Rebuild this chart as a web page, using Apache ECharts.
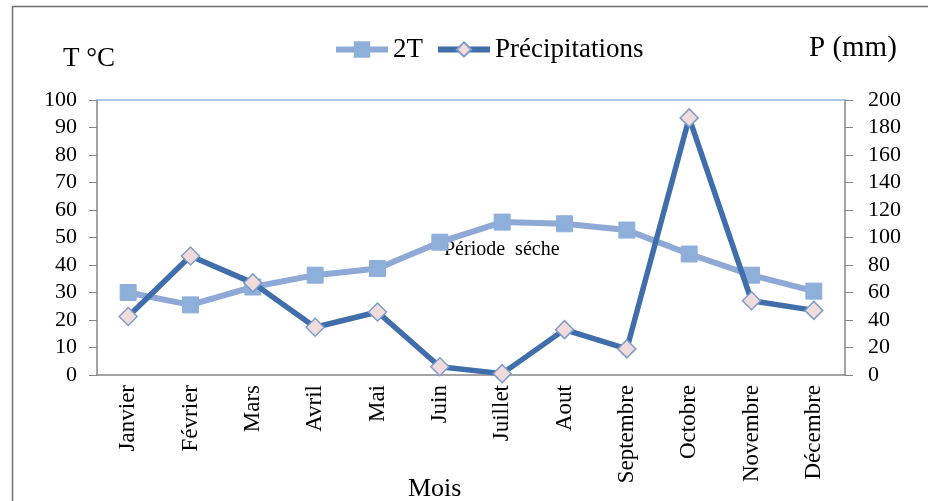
<!DOCTYPE html>
<html>
<head>
<meta charset="utf-8">
<script src="https://cdn.jsdelivr.net/npm/echarts@6/dist/echarts.min.js"></script>
<style>
  html, body { margin: 0; padding: 0; background: #fff; }
  #chart { width: 928px; height: 501px; }
</style>
</head>
<body>
<div id="chart"></div>
<script>
// mois
var mois = ['Janvier', 'Février', 'Mars', 'Avril', 'Mai', 'Juin', 'Juillet', 'Aout', 'Septembre', 'Octobre', 'Novembre', 'Décembre'];
// 2T (axe gauche, °C x 2)
var deuxT = [30, 25.5, 32, 36.3, 38.7, 48.3, 55.6, 55, 52.7, 44, 36.3, 30.5];
// précipitations (axe droit, mm)
var precip = [42.5, 86.5, 67, 34.7, 45.8, 6, 1, 33, 19, 187, 54, 47];

var serif = '"Liberation Serif", "DejaVu Serif", serif';
var chart = echarts.init(document.getElementById('chart'));

var option = {
  backgroundColor: '#ffffff',
  animation: false,
  textStyle: { fontFamily: serif },
  legend: {
    top: 31,
    left: 328,
    itemWidth: 52,
    itemHeight: 18,
    itemGap: 12,
    lineStyle: { width: 6 },
    textStyle: { fontFamily: serif, fontSize: 27, color: '#000' },
    data: ['2T', 'Précipitations']
  },
  grid: { left: 97, right: 83, top: 100, bottom: 126 },
  xAxis: [{
    type: 'category',
    data: mois,
    boundaryGap: true,
    axisLine: { onZero: false, lineStyle: { color: '#868686', width: 1.5 } },
    axisTick: { show: false },
    axisLabel: {
      rotate: 90,
      interval: 0,
      margin: 10,
      fontFamily: serif,
      fontSize: 23,
      color: '#000'
    }
  }, {
    type: 'category',
    data: mois,
    position: 'top',
    axisLine: { onZero: false, lineStyle: { color: '#8EB4E3', width: 1.5 } },
    axisTick: { show: false },
    axisLabel: { show: false }
  }],
  yAxis: [{
    type: 'value',
    min: 0, max: 100, interval: 10,
    axisLine: { show: true, onZero: false, lineStyle: { color: '#868686', width: 1.5 } },
    axisTick: { show: true, length: 8, lineStyle: { color: '#868686' } },
    splitLine: { show: false },
    axisLabel: { fontFamily: serif, fontSize: 22, color: '#000', margin: 20 }
  }, {
    type: 'value',
    min: 0, max: 200, interval: 20,
    axisLine: { show: true, onZero: false, lineStyle: { color: '#868686', width: 1.5 } },
    axisTick: { show: true, length: 8, lineStyle: { color: '#868686' } },
    splitLine: { show: false },
    axisLabel: { fontFamily: serif, fontSize: 22, color: '#000', margin: 23 }
  }],
  series: [{
    name: '2T',
    type: 'line',
    yAxisIndex: 0,
    data: deuxT,
    symbol: 'rect',
    symbolSize: 16,
    lineStyle: { color: '#8EA9D5', width: 6 },
    itemStyle: { color: '#8EAFDA', borderColor: '#8EAFDA', borderWidth: 1 },
    z: 2
  }, {
    name: 'Précipitations',
    type: 'line',
    yAxisIndex: 1,
    data: precip,
    symbol: 'diamond',
    symbolSize: [18, 18],
    lineStyle: { color: '#3F6EAA', width: 5.5 },
    itemStyle: { color: '#F2DCDB', borderColor: '#7E9DCB', borderWidth: 1.5 },
    z: 3
  }],
  graphic: [
    { type: 'rect', left: 10, top: 4, shape: { width: 930, height: 510 },
      style: { fill: 'none', stroke: '#6f6f6f', lineWidth: 1.5 }, silent: true, z: -1 },
    { type: 'text', left: 63, top: 45,
      style: { text: 'T °C', font: '27px ' + serif, fill: '#000' } },
    { type: 'text', left: 809, top: 34,
      style: { text: 'P (mm)', font: '29px ' + serif, fill: '#000' } },
    { type: 'text', left: 444, top: 240,
      style: { text: 'Période  séche', font: '20px ' + serif, fill: '#000' } },
    { type: 'text', left: 408, top: 476,
      style: { text: 'Mois', font: '26px ' + serif, fill: '#000' } }
  ]
};

chart.setOption(option);
</script>
</body>
</html>
